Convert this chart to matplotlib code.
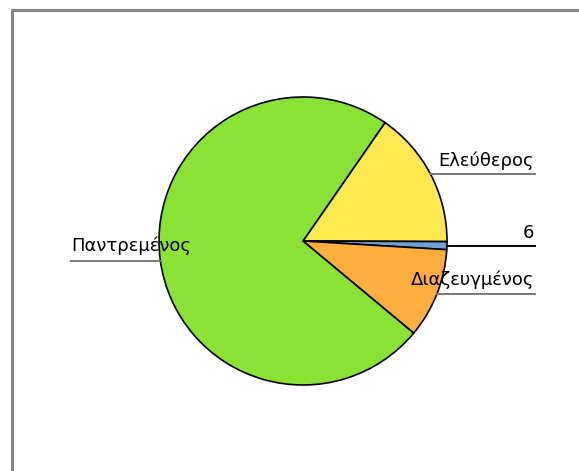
import matplotlib
matplotlib.use("Agg")
import matplotlib.pyplot as plt
import numpy as np

# slice data, in drawing order (clockwise from the green/yellow edge)
categories = ["Ελεύθερος", "6", "Διαζευγμένος", "Παντρεμένος"]
values = [104, 6, 68, 496]
colors = ["#FCE94F", "#729FCF", "#FCAF3E", "#8AE234"]

W, H = 579, 471
fig = plt.figure(figsize=(W / 100, H / 100), dpi=100)
ax = fig.add_axes([0, 0, 1, 1])

cx, cy, r = 303, H - 241, 144
ax.pie(values, colors=colors, startangle=55.3, counterclock=False,
       center=(cx, cy), radius=r, frame=True,
       wedgeprops=dict(edgecolor="black", linewidth=1.2))
ax.set_xlim(0, W)
ax.set_ylim(0, H)
ax.set_aspect("equal")
ax.axis("off")

# outer frame (cropped on the right and bottom)
ax.plot([11.5, 11.5], [0, H - 9], color="#858585", lw=2.2, solid_capstyle="butt")
ax.plot([11, W], [H - 9.5, H - 9.5], color="#858585", lw=2.2, solid_capstyle="butt")


def edge_x(y, side):
    dy = y - cy
    return cx + side * np.sqrt(max(r * r - dy * dy, 0))


# labels with underline leaders: (text, text x, text y, line y, side, ha, line colour)
label_specs = [
    (categories[0], 534, H - 161, H - 174, 1, "right", "#777777"),
    (categories[1], 534, H - 233, H - 246, 1, "right", "black"),
    (categories[2], 534, H - 280, H - 294, 1, "right", "#777777"),
    (categories[3], 71, H - 246, H - 261, -1, "left", "#777777"),
]
for txt, tx, ty, ly, side, ha, lc in label_specs:
    ax.text(tx, ty, txt, ha=ha, va="center", fontsize=13,
            family="DejaVu Sans", color="black", zorder=5)
    x0 = edge_x(ly, side)
    if side > 0:
        ax.plot([x0, 535], [ly, ly], color=lc, lw=1.4, zorder=4)
    else:
        ax.plot([71, x0], [ly, ly], color=lc, lw=1.4, zorder=4)

fig.savefig("out.png", dpi=100)
